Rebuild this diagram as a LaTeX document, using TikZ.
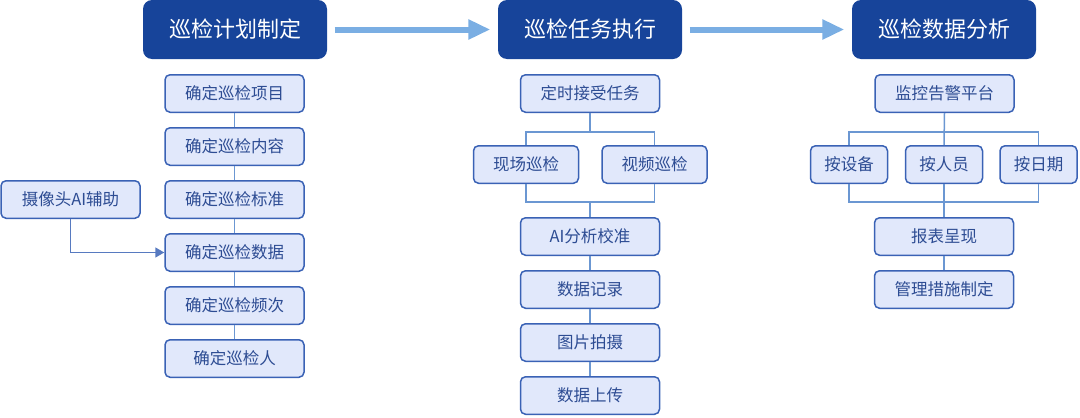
\documentclass[tikz,border=0pt]{standalone}
\usepackage{fontspec}
\usepackage{xcolor}
\usepackage{tikz}
\usetikzlibrary{arrows.meta,positioning,calc}
\newfontfamily\cjk{Noto Sans CJK SC}
\definecolor{headblue}{HTML}{17449A}
\definecolor{boxfill}{HTML}{E1E8FB}
\definecolor{boxline}{HTML}{3A62B5}
\definecolor{boxtext}{HTML}{2D4C93}
\definecolor{linkblue}{HTML}{6B97D2}
\definecolor{flowblue}{HTML}{7AAEE3}

\begin{document}
\begin{tikzpicture}[
  x=1pt,y=-1pt,
  node distance=14pt,
  head/.style={rectangle,rounded corners=9pt,fill=headblue,text=white,
    minimum width=184pt,minimum height=59pt,inner sep=0pt,
    font=\cjk\fontsize{22}{26}\selectfont},
  box/.style={rectangle,rounded corners=5pt,draw=boxline,line width=1.5pt,
    fill=boxfill,text=boxtext,minimum width=139pt,minimum height=37.5pt,
    inner sep=0pt,font=\cjk\fontsize{16.5}{20}\selectfont},
  sbox/.style={box,minimum width=105pt},
  tbox/.style={box,minimum width=77pt},
  link/.style={linkblue,line width=1.5pt},
  feed/.style={-{Triangle[length=9pt,width=10pt]},line width=1.6pt,boxline!85},
  flow/.style={-{Triangle[length=22pt,width=19pt]},line width=6pt,flowblue,
    shorten <=7.5pt,shorten >=7.5pt}]

\useasboundingbox (0,0) rectangle (1080,418);

\node[head] (plan) at (235,29.5) {巡检计划制定};
\node[head] (exec) at (590,29.5) {巡检任务执行};
\node[head] (anal) at (944,29.5) {巡检数据分析};

\node[box] (p1) at (234.5,93.5) {确定巡检项目};
\node[box,below=of p1] (p2) {确定巡检内容};
\node[box,below=of p2] (p3) {确定巡检标准};
\node[box,below=of p3] (p4) {确定巡检数据};
\node[box,below=of p4] (p5) {确定巡检频次};
\node[box,below=of p5] (p6) {确定巡检人};
\node[box,left=of p3,xshift=-9.5pt] (cam) {摄像头AI辅助};

\node[box] (e1) at (590,93.5) {定时接受任务};
\node[sbox] (e2) at (526,164.5) {现场巡检};
\node[sbox] (e3) at (654.5,164.5) {视频巡检};
\node[box] (e4) at (590,236.5) {AI分析校准};
\node[box,below=of e4] (e5) {数据记录};
\node[box,below=of e5] (e6) {图片拍摄};
\node[box,below=of e6] (e7) {数据上传};

\node[box] (a1) at (944.5,93.5) {监控告警平台};
\node[tbox] (a2) at (849,164.5) {按设备};
\node[tbox] (a3) at (944,164.5) {按人员};
\node[tbox] (a4) at (1038.5,164.5) {按日期};
\node[box] (a5) at (944,236.5) {报表呈现};
\node[box,below=of a5] (a6) {管理措施制定};

\coordinate (esplit) at (590,132);
\coordinate (emerge) at (590,202);
\coordinate (asplit) at (944,132);
\coordinate (amerge) at (944,202);

\draw[flow] (plan) -- (exec);
\draw[flow] (exec) -- (anal);

\draw[link] (p1) -- (p2);
\draw[link] (p2) -- (p3);
\draw[link] (p3) -- (p4);
\draw[link] (p4) -- (p5);
\draw[link] (p5) -- (p6);
\draw[feed] (cam.south) |- (p4.west);

\draw[link] (e1.south) -- (esplit);
\draw[link] (e2.north) |- (esplit) -| (e3.north);
\draw[link] (e2.south) |- (emerge) -| (e3.south);
\draw[link] (emerge) -- (e4.north);
\draw[link] (e4) -- (e5);
\draw[link] (e5) -- (e6);
\draw[link] (e6) -- (e7);

\draw[link] (a1.south) -- (a3.north);
\draw[link] (a2.north) |- (asplit) -| (a4.north);
\draw[link] (a2.south) |- (amerge) -| (a4.south);
\draw[link] (a3.south) -- (a5.north);
\draw[link] (a5) -- (a6);
\end{tikzpicture}
\end{document}
